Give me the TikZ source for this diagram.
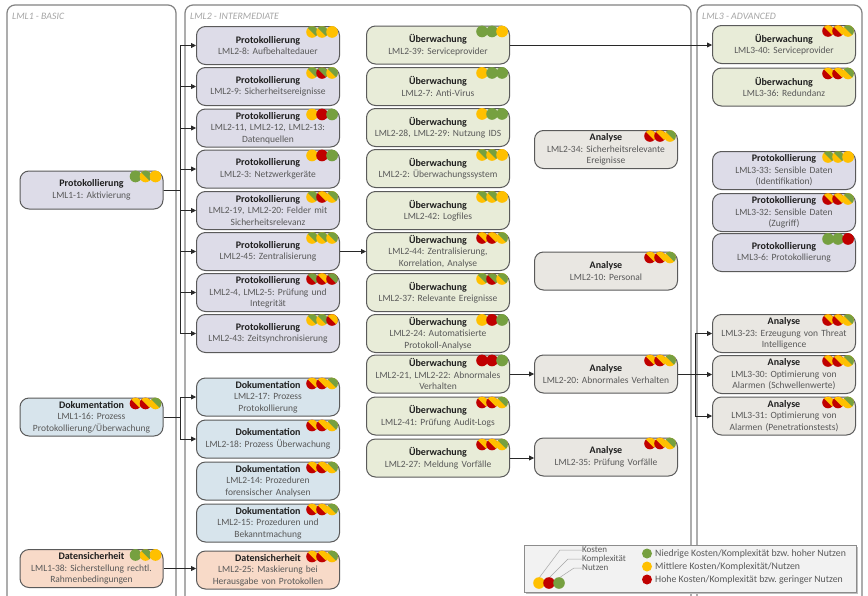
\documentclass[tikz,border=0pt]{standalone}
\usepackage{fontspec}
\setmainfont{Carlito}
\usetikzlibrary{arrows.meta,calc}
\frenchspacing

\definecolor{cgreen}{RGB}{118,160,64}
\definecolor{cyellow}{RGB}{255,192,0}
\definecolor{cred}{RGB}{192,0,0}
\definecolor{cproto}{RGB}{221,220,232}
\definecolor{cueber}{RGB}{232,236,216}
\definecolor{canaly}{RGB}{233,231,226}
\definecolor{cdoku}{RGB}{215,228,236}
\definecolor{cdaten}{RGB}{248,218,200}
\definecolor{nodeline}{RGB}{90,90,90}
\definecolor{laneline}{RGB}{130,130,130}
\definecolor{lanetext}{RGB}{165,165,165}
\definecolor{bodygray}{RGB}{89,89,89}
\definecolor{titlegray}{RGB}{30,30,30}
\definecolor{linec}{RGB}{40,40,40}

\newcommand\ttl[1]{{\fontsize{10}{11}\selectfont\bfseries\color{titlegray}#1}}

% one lamp: centre offset from the node's north east corner,
% lower-left colour, upper-right colour (split along the falling diagonal)
\newcommand\lamp[4]{%
  \coordinate (lampc) at ($(#1.north east)+(#2,6)$);
  \fill[#3] (lampc) circle (5.8pt);
  \begin{scope}
    \clip (lampc) circle (5.8pt);
    \fill[#4] ($(lampc)+(-7,-7)$) -- ($(lampc)+(7,-7)$) -- ($(lampc)+(7,7)$) -- cycle;
  \end{scope}}
% three lamps: Kosten, Komplexitaet, Nutzen
\newcommand\lights[7]{%
  \lamp{#1}{-28}{#2}{#3}\lamp{#1}{-18}{#4}{#5}\lamp{#1}{-8}{#6}{#7}}

\begin{document}
\begin{tikzpicture}[x=1pt,y=-1pt,
  box/.style={draw=nodeline, line width=1pt, rounded corners=9pt,
    minimum width=143pt, minimum height=38pt, text width=139pt, align=center,
    inner xsep=2pt, inner ysep=1pt, font=\fontsize{9.5}{11.5}\selectfont, text=bodygray},
  proto/.style={box, fill=cproto},
  ueber/.style={box, fill=cueber},
  analy/.style={box, fill=canaly},
  doku/.style={box, fill=cdoku},
  daten/.style={box, fill=cdaten},
  lane/.style={draw=laneline, line width=1.2pt, rounded corners=8pt},
  lanelabel/.style={anchor=west, text=lanetext, font=\fontsize{9.8}{11}\selectfont\itshape, inner sep=0pt},
  arr/.style={draw=linec, line width=0.8pt, -{Triangle[length=5pt,width=5pt]}},
  legtext/.style={anchor=west, text=bodygray, font=\fontsize{9.8}{11}\selectfont, inner sep=0pt},
  keytext/.style={anchor=west, text=bodygray, font=\fontsize{9}{10}\selectfont, inner sep=0pt}
]
\useasboundingbox (0,0) rectangle (868,595);
\fill[white] (0,0) rectangle (868,595);

% swim lanes, open at the bottom
\draw[lane] (7,600) -- (7,5) -- (176,5) -- (176,600);
\draw[lane] (185,600) -- (185,5) -- (691,5) -- (691,600);
\draw[lane] (697,600) -- (697,5) -- (862,5) -- (862,600);
\node[lanelabel] (lab1) at (12,16) {LML1 - BASIC};
\node[lanelabel] (lab2) at (190,16) {LML2 - INTERMEDIATE};
\node[lanelabel] (lab3) at (702,16) {LML3 - ADVANCED};

% LML1
\node[proto] (l1) at (91.5,190) {\ttl{Protokollierung}\\LML1-1: Aktivierung};
\node[doku] (l16) at (91.5,417) {\ttl{Dokumentation}\\LML1-16: Prozess\\Protokollierung/Überwachung};
\node[daten] (l38) at (91.5,568.5) {\ttl{Datensicherheit}\\LML1-38: Sicherstellung rechtl.\\Rahmenbedingungen};

% LML2, first column
\node[proto] (p8) at (268,45.5) {\ttl{Protokollierung}\\LML2-8: Aufbehaltedauer};
\node[proto] (p9) at (268,86.5) {\ttl{Protokollierung}\\LML2-9: Sicherheitsereignisse};
\node[proto] (p11) at (268,128) {\ttl{Protokollierung}\\LML2-11, LML2-12, LML2-13:\\Datenquellen};
\node[proto] (p3) at (268,169) {\ttl{Protokollierung}\\LML2-3: Netzwerkgeräte};
\node[proto] (p19) at (268,210.5) {\ttl{Protokollierung}\\LML2-19, LML2-20: Felder mit\\Sicherheitsrelevanz};
\node[proto] (p45) at (268,251.5) {\ttl{Protokollierung}\\LML2-45: Zentralisierung};
\node[proto] (p4) at (268,292.5) {\ttl{Protokollierung}\\LML2-4, LML2-5: Prüfung und\\Integrität};
\node[proto] (p43) at (268,333.5) {\ttl{Protokollierung}\\LML2-43: Zeitsynchronisierung};
\node[doku] (d17) at (268,397) {\ttl{Dokumentation}\\LML2-17: Prozess\\Protokollierung};
\node[doku] (d18) at (268,439) {\ttl{Dokumentation}\\LML2-18: Prozess Überwachung};
\node[doku] (d14) at (268,481) {\ttl{Dokumentation}\\LML2-14: Prozeduren\\forensischer Analysen};
\node[doku] (d15) at (268,523) {\ttl{Dokumentation}\\LML2-15: Prozeduren und\\Bekanntmachung};
\node[daten] (d25) at (268,570) {\ttl{Datensicherheit}\\LML2-25: Maskierung bei\\Herausgabe von Protokollen};

% LML2, second column
\node[ueber] (u39) at (438,45) {\ttl{Überwachung}\\LML2-39: Serviceprovider};
\node[ueber] (u7) at (438,86.5) {\ttl{Überwachung}\\LML2-7: Anti-Virus};
\node[ueber] (u28) at (438,127.5) {\ttl{Überwachung}\\LML2-28, LML2-29: Nutzung IDS};
\node[ueber] (u2) at (438,168.5) {\ttl{Überwachung}\\LML2-2: Überwachungssystem};
\node[ueber] (u42) at (438,210.5) {\ttl{Überwachung}\\LML2-42: Logfiles};
\node[ueber] (u44) at (438,251.5) {\ttl{Überwachung}\\LML2-44: Zentralisierung,\\Korrelation, Analyse};
\node[ueber] (u37) at (438,292.5) {\ttl{Überwachung}\\LML2-37: Relevante Ereignisse};
\node[ueber] (u24) at (438,333.5) {\ttl{Überwachung}\\LML2-24: Automatisierte\\Protokoll-Analyse};
\node[ueber] (u21) at (438,374) {\ttl{Überwachung}\\LML2-21, LML2-22: Abnormales\\Verhalten};
\node[ueber] (u41) at (438,416) {\ttl{Überwachung}\\LML2-41: Prüfung Audit-Logs};
\node[ueber] (u27) at (438,458) {\ttl{Überwachung}\\LML2-27: Meldung Vorfälle};

% LML2, third column
\node[analy] (a34) at (606,149.5) {\ttl{Analyse}\\LML2-34: Sicherheitsrelevante\\Ereignisse};
\node[analy] (a10) at (606,271) {\ttl{Analyse}\\LML2-10: Personal};
\node[analy] (a20) at (606,374) {\ttl{Analyse}\\LML2-20: Abnormales Verhalten};
\node[analy] (a35) at (606,457) {\ttl{Analyse}\\LML2-35: Prüfung Vorfälle};

% LML3
\node[ueber] (m40) at (784,44.5) {\ttl{Überwachung}\\LML3-40: Serviceprovider};
\node[ueber] (m36) at (784,87) {\ttl{Überwachung}\\LML3-36: Redundanz};
\node[proto] (m33) at (784,170.5) {\ttl{Protokollierung}\\LML3-33: Sensible Daten\\(Identifikation)};
\node[proto] (m32) at (784,212.5) {\ttl{Protokollierung}\\LML3-32: Sensible Daten\\(Zugriff)};
\node[proto] (m6) at (784,252.5) {\ttl{Protokollierung}\\LML3-6: Protokollierung};
\node[analy] (m23) at (784,333.5) {\ttl{Analyse}\\LML3-23: Erzeugung von Threat\\Intelligence};
\node[analy] (m30) at (784,374.5) {\ttl{Analyse}\\LML3-30: Optimierung von\\Alarmen (Schwellenwerte)};
\node[analy] (m31) at (784,416) {\ttl{Analyse}\\LML3-31: Optimierung von\\Alarmen (Penetrationstests)};

% traffic lights (lower-left colour, upper-right colour) x 3
\lights{l1}{cgreen}{cgreen}{cyellow}{cgreen}{cyellow}{cyellow}
\lights{l16}{cred}{cyellow}{cred}{cyellow}{cyellow}{cgreen}
\lights{l38}{cgreen}{cgreen}{cyellow}{cgreen}{cyellow}{cyellow}
\lights{p8}{cyellow}{cgreen}{cyellow}{cgreen}{cyellow}{cyellow}
\lights{p9}{cyellow}{cgreen}{cred}{cgreen}{cyellow}{cgreen}
\lights{p11}{cyellow}{cyellow}{cred}{cred}{cgreen}{cgreen}
\lights{p3}{cyellow}{cyellow}{cred}{cred}{cgreen}{cgreen}
\lights{p19}{cyellow}{cgreen}{cred}{cyellow}{cyellow}{cgreen}
\lights{p45}{cyellow}{cgreen}{cyellow}{cgreen}{cyellow}{cgreen}
\lights{p4}{cred}{cgreen}{cred}{cyellow}{cred}{cgreen}
\lights{p43}{cyellow}{cgreen}{cyellow}{cgreen}{cred}{cyellow}
\lights{d17}{cred}{cyellow}{cred}{cyellow}{cyellow}{cgreen}
\lights{d18}{cred}{cyellow}{cred}{cyellow}{cyellow}{cgreen}
\lights{d14}{cred}{cyellow}{cred}{cyellow}{cyellow}{cgreen}
\lights{d15}{cred}{cyellow}{cred}{cyellow}{cyellow}{cgreen}
\lights{d25}{cred}{cyellow}{cred}{cyellow}{cyellow}{cgreen}
\lights{u39}{cgreen}{cgreen}{cgreen}{cgreen}{cyellow}{cyellow}
\lights{u7}{cyellow}{cyellow}{cgreen}{cgreen}{cgreen}{cgreen}
\lights{u28}{cyellow}{cyellow}{cgreen}{cgreen}{cgreen}{cgreen}
\lights{u2}{cyellow}{cgreen}{cyellow}{cgreen}{cyellow}{cyellow}
\lights{u42}{cyellow}{cgreen}{cyellow}{cgreen}{cyellow}{cyellow}
\lights{u44}{cred}{cyellow}{cred}{cyellow}{cyellow}{cgreen}
\lights{u37}{cyellow}{cgreen}{cred}{cgreen}{cyellow}{cgreen}
\lights{u24}{cyellow}{cyellow}{cred}{cred}{cgreen}{cgreen}
\lights{u21}{cred}{cred}{cred}{cred}{cgreen}{cgreen}
\lights{u41}{cred}{cyellow}{cred}{cyellow}{cyellow}{cgreen}
\lights{u27}{cred}{cyellow}{cred}{cyellow}{cyellow}{cgreen}
\lights{a34}{cred}{cyellow}{cred}{cyellow}{cyellow}{cgreen}
\lights{a10}{cred}{cyellow}{cred}{cyellow}{cyellow}{cgreen}
\lights{a20}{cred}{cyellow}{cred}{cyellow}{cyellow}{cgreen}
\lights{a35}{cred}{cyellow}{cred}{cyellow}{cyellow}{cgreen}
\lights{m40}{cred}{cyellow}{cred}{cyellow}{cyellow}{cgreen}
\lights{m36}{cred}{cyellow}{cred}{cyellow}{cyellow}{cgreen}
\lights{m33}{cyellow}{cgreen}{cyellow}{cgreen}{cyellow}{cyellow}
\lights{m32}{cred}{cyellow}{cred}{cyellow}{cyellow}{cgreen}
\lights{m6}{cgreen}{cgreen}{cgreen}{cgreen}{cred}{cred}
\lights{m23}{cred}{cyellow}{cred}{cyellow}{cyellow}{cgreen}
\lights{m30}{cred}{cyellow}{cred}{cyellow}{cyellow}{cgreen}
\lights{m31}{cred}{cyellow}{cred}{cyellow}{cyellow}{cgreen}

% connectors
\coordinate (bus1) at (180,190);
\foreach \t in {p8,p9,p11,p3,p19,p45,p4,p43}
  \draw[arr] (l1.east) -- (bus1) |- (\t.west);
\coordinate (bus2) at (180,417);
\foreach \t in {d17,d18}
  \draw[arr] (l16.east) -- (bus2) |- (\t.west);
\draw[arr] (l38.east) -- (l38.east -| d25.west);
\draw[arr] (p45.east) -- (u44.west);
\draw[arr] (u39.east) -- (u39.east -| m40.west);
\draw[arr] (u21.east) -- (a20.west);
\draw[arr] (u27.east) -- (u27.east -| a35.west);
\coordinate (bus3) at (695,374);
\foreach \t in {m23,m30,m31}
  \draw[arr] (a20.east) -- (bus3) |- (\t.west);

% legend
\fill[black!25] (526,547) rectangle (858,594);
\node[draw=black!45, fill=black!5, line width=0.6pt, minimum width=332pt, minimum height=47pt, inner sep=0pt] (legend) at (690,568.5) {};
\node[keytext] (kk) at (582,550) {Kosten};
\node[keytext] (kx) at (582,559) {Komplexität};
\node[keytext] (kn) at (582,568) {Nutzen};
\coordinate (lc1) at (539,583);
\coordinate (lc2) at (549,583);
\coordinate (lc3) at (559,583);
\draw[black!35, line width=0.5pt] (kk.west) -- ++(-22,0) -- ($(lc1)+(0,-5)$);
\draw[black!35, line width=0.5pt] (kx.west) -- ++(-14,0) -- ($(lc2)+(0,-5)$);
\draw[black!35, line width=0.5pt] (kn.west) -- ++(-8,0) -- ($(lc3)+(0,-5)$);
\fill[cyellow] (lc1) circle (5.8pt);
\fill[cred] (lc2) circle (5.8pt);
\fill[cgreen] (lc3) circle (5.8pt);
\coordinate (lg1) at (647,553.5);
\coordinate (lg2) at (647,566.5);
\coordinate (lg3) at (647,579.5);
\fill[cgreen] (lg1) circle (5pt);
\fill[cyellow] (lg2) circle (5pt);
\fill[cred] (lg3) circle (5pt);
\node[legtext] (t1) at (655,553.5) {Niedrige Kosten/Komplexität bzw. hoher Nutzen};
\node[legtext] (t2) at (655,566.5) {Mittlere Kosten/Komplexität/Nutzen};
\node[legtext] (t3) at (655,579.5) {Hohe Kosten/Komplexität bzw. geringer Nutzen};
\end{tikzpicture}
\end{document}
